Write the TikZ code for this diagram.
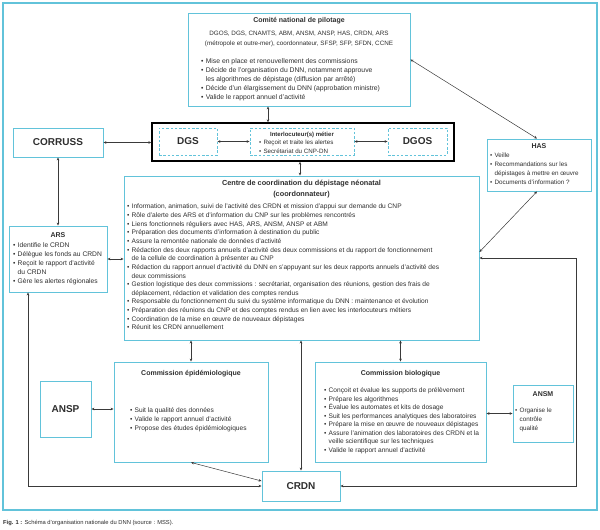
\documentclass[tikz,border=0pt]{standalone}
\usepackage{fontspec}
\setmainfont{Liberation Sans}
\usetikzlibrary{arrows.meta}
\definecolor{DNNCyan}{HTML}{62C3DA}
\definecolor{DNNText}{HTML}{2E2E2E}
\definecolor{DNNLine}{HTML}{3A3A3A}
\newcommand{\bul}{\textbullet\hspace{2.2pt}}
\newcommand{\cnt}{\hphantom{\textbullet\hspace{2.2pt}}}
\newcommand{\tp}{\rule{0pt}{5.2pt}}

\begin{document}
\begin{tikzpicture}[x=1pt, y=-1pt, >={Stealth[length=3pt,width=2.6pt]},
  box/.style={draw=DNNCyan, line width=0.9pt, inner sep=0pt, text=DNNText},
  dashbox/.style={box, dash pattern=on 2.5pt off 1.8pt},
  big/.style={font=\bfseries\fontsize{10}{12}\selectfont},
  ttl/.style={font=\bfseries\fontsize{7}{8}\selectfont, text=DNNText, inner sep=0pt},
  lst/.style={font=\fontsize{6.6}{8.65}\selectfont, text=DNNText, align=left, anchor=north west, inner sep=0pt},
  link/.style={<->, draw=DNNLine, line width=0.5pt}]

\useasboundingbox (0,0) rectangle (600,530);
\draw[DNNCyan, line width=1.6pt] (3,3) rectangle (597,510);

% boxes
\node[box, minimum width=222pt, minimum height=93pt] (cnp) at (299,59.5) {};
\node[box, big, minimum width=90pt, minimum height=29pt] (corruss) at (58,142.5) {CORRUSS};
\node[draw, line width=1.4pt, minimum width=302pt, minimum height=38pt] (metiers) at (303,142) {};
\node[dashbox, big, minimum width=58pt, minimum height=27pt] (dgs) at (188,141.5) {DGS};
\node[dashbox, minimum width=104pt, minimum height=27pt] (interloc) at (302,141.5) {};
\node[dashbox, big, minimum width=59pt, minimum height=27pt] (dgos) at (417.5,141.5) {DGOS};
\node[box, minimum width=104pt, minimum height=52pt] (has) at (539,165) {};
\node[box, minimum width=355pt, minimum height=164pt] (ccdn) at (301.5,258) {};
\node[box, minimum width=98pt, minimum height=66pt] (ars) at (58,259) {};
\node[box, minimum width=154pt, minimum height=100pt] (epi) at (191,412) {};
\node[box, big, minimum width=51pt, minimum height=56pt] (ansp) at (65.5,409) {ANSP};
\node[box, minimum width=171pt, minimum height=100pt] (bio) at (400.5,412) {};
\node[box, minimum width=60pt, minimum height=57pt] (ansm) at (543,413.5) {};
\node[box, big, minimum width=78pt, minimum height=30pt] (crdn) at (301,486) {CRDN};

% Comite national de pilotage
\node[ttl, anchor=base] (cnp-t) at (299,22.5) {Comité national de pilotage};
\node[lst, align=center, anchor=north, font=\fontsize{6.3}{9.7}\selectfont] (cnp-m) at (299,30.4) {\tp DGOS, DGS, CNAMTS, ABM, ANSM, ANSP, HAS, CRDN, ARS\\(métropole et outre-mer), coordonnateur, SFSP, SFP, SFDN, CCNE};
\node[lst, font=\fontsize{6.8}{9}\selectfont] (cnp-l) at (201,58.4) {\tp\bul Mise en place et renouvellement des commissions\\
\bul Décide de l’organisation du DNN, notamment approuve\\
\cnt les algorithmes de dépistage (diffusion par arrêté)\\
\bul Décide d’un élargissement du DNN (approbation ministre)\\
\bul Valide le rapport annuel d’activité};

% interlocuteurs metier
\node[ttl, font=\bfseries\fontsize{6}{7}\selectfont, anchor=base] (interloc-t) at (302,136) {Interlocuteur(s) métier};
\node[lst, font=\fontsize{6.2}{9}\selectfont] (interloc-l) at (259,139.4) {\tp\bul Reçoit et traite les alertes\\\bul Secrétariat du CNP-DN};

% HAS
\node[ttl, anchor=base] (has-t) at (539,148.5) {HAS};
\node[lst, font=\fontsize{6.3}{8.9}\selectfont] (has-l) at (490,152.4) {\tp\bul Veille\\\bul Recommandations sur les\\\cnt dépistages à mettre en œuvre\\\bul Documents d’information ?};

% ARS
\node[ttl, anchor=base] (ars-t) at (58,237.5) {ARS};
\node[lst, font=\fontsize{6.7}{9}\selectfont] (ars-l) at (13,242.4) {\tp\bul Identifie le CRDN\\\bul Délègue les fonds au CRDN\\\bul Reçoit le rapport d’activité\\\cnt du CRDN\\\bul Gère les alertes régionales};

% centre de coordination
\node[ttl, font=\bfseries\fontsize{7.3}{9}\selectfont, anchor=base] (ccdn-t) at (301.5,185.5) {Centre de coordination du dépistage néonatal};
\node[ttl, font=\bfseries\fontsize{7.3}{9}\selectfont, anchor=base] (ccdn-s) at (301.5,196.5) {(coordonnateur)};
\node[lst] (ccdn-l) at (127,203.4) {\tp\bul Information, animation, suivi de l’activité des CRDN et mission d’appui sur demande du CNP\\
\bul Rôle d’alerte des ARS et d’information du CNP sur les problèmes rencontrés\\
\bul Liens fonctionnels réguliers avec HAS, ARS, ANSM, ANSP et ABM\\
\bul Préparation des documents d’information à destination du public\\
\bul Assure la remontée nationale de données d’activité\\
\bul Rédaction des deux rapports annuels d’activité des deux commissions et du rapport de fonctionnement\\
\cnt de la cellule de coordination à présenter au CNP\\
\bul Rédaction du rapport annuel d’activité du DNN en s’appuyant sur les deux rapports annuels d’activité des\\
\cnt deux commissions\\
\bul Gestion logistique des deux commissions : secrétariat, organisation des réunions, gestion des frais de\\
\cnt déplacement, rédaction et validation des comptes rendus\\
\bul Responsable du fonctionnement du suivi du système informatique du DNN : maintenance et évolution\\
\bul Préparation des réunions du CNP et des comptes rendus en lien avec les interlocuteurs métiers\\
\bul Coordination de la mise en œuvre de nouveaux dépistages\\
\bul Réunit les CRDN annuellement};

% commissions
\node[ttl, anchor=base] (epi-t) at (191,375.5) {Commission épidémiologique};
\node[lst, font=\fontsize{6.6}{8.8}\selectfont] (epi-l) at (130,407.4) {\tp\bul Suit la qualité des données\\\bul Valide le rapport annuel d’activité\\\bul Propose des études épidémiologiques};
\node[ttl, anchor=base] (bio-t) at (400.5,375.5) {Commission biologique};
\node[lst, font=\fontsize{6.6}{8.5}\selectfont] (bio-l) at (324,387.4) {\tp\bul Conçoit et évalue les supports de prélèvement\\
\bul Prépare les algorithmes\\
\bul Évalue les automates et kits de dosage\\
\bul Suit les performances analytiques des laboratoires\\
\bul Prépare la mise en œuvre de nouveaux dépistages\\
\bul Assure l’animation des laboratoires des CRDN et la\\
\cnt veille scientifique sur les techniques\\
\bul Valide le rapport annuel d’activité};
\node[ttl, anchor=base] (ansm-t) at (543,396.5) {ANSM};
\node[lst, font=\fontsize{6.3}{8.6}\selectfont] (ansm-l) at (515,407.4) {\tp\bul Organise le\\\cnt contrôle\\\cnt qualité};

% liens
\draw[link] ([xshift=-31pt]cnp.south) -- ([xshift=-31pt]cnp.south |- metiers.north);
\draw[link] (corruss.east) -- (corruss.east -| metiers.west);
\draw[link] (dgs) -- (interloc);
\draw[link] (interloc) -- (dgos);
\draw[link] ([xshift=-3pt]metiers.south) -- ([xshift=-3pt]metiers.south |- ccdn.north);
\draw[link] (cnp.east) -- ([xshift=-2pt]has.north);
\draw[link] ([yshift=6pt]ccdn.east) -- ([xshift=-2pt]has.south);
\draw[link] (corruss) -- (ars);
\draw[link] (ars.east) -- (ars.east -| ccdn.west);
\draw[link] ([xshift=-30pt]ars.south) |- (crdn.west);
\draw[link] (epi.south) -- ([yshift=5pt]crdn.west);
\draw[link] (crdn.north) -- (crdn.north |- ccdn.south);
\draw[link] (epi.north) -- (epi.north |- ccdn.south);
\draw[link] (bio.north) -- (bio.north |- ccdn.south);
\draw[link] (ansp) -- (ansp -| epi.west);
\draw[link] (ansm.west -| bio.east) -- (ansm.west);
\coordinate (rturn) at (576,486);
\draw[link] (ccdn.east) -| (rturn) -- (crdn.east);

\node[anchor=base west, inner sep=0pt, font=\fontsize{5.8}{7}\selectfont, text=DNNText] (caption) at (3,524) {\textbf{Fig. 1 :} Schéma d’organisation nationale du DNN (source : MSS).};
\end{tikzpicture}
\end{document}
